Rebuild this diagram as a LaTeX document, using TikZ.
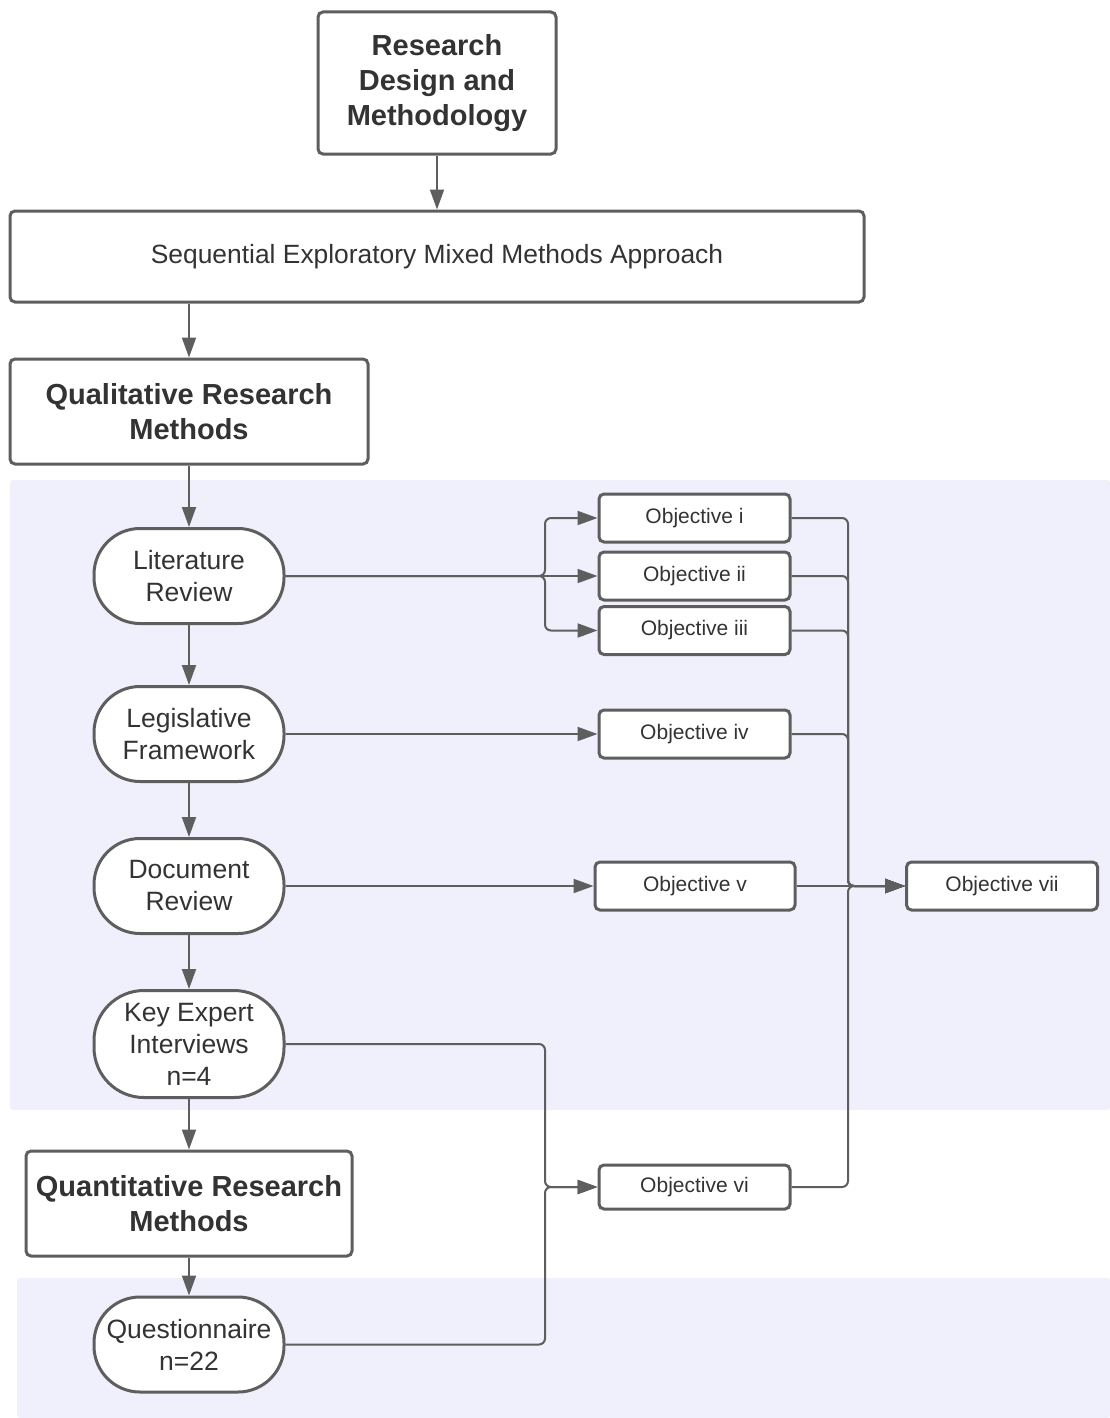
\documentclass[tikz,border=0pt]{standalone}
\usepackage{fontspec}
\setmainfont{Liberation Sans}
\usetikzlibrary{arrows.meta}
\definecolor{linegray}{RGB}{94,94,94}
\definecolor{txtgray}{RGB}{51,51,51}
\definecolor{lane}{RGB}{240,240,252}
\begin{document}
\begin{tikzpicture}[x=1pt,y=-1pt,
  box/.style={draw=linegray, line width=3pt, rounded corners=5pt, fill=white, text=txtgray, align=center, inner sep=0pt},
  headbox/.style={box, font=\fontsize{29}{35}\selectfont\bfseries},
  stadium/.style={box, rounded corners=46pt, minimum width=190pt, minimum height=95pt, font=\fontsize{26.5}{32}\selectfont},
  objbox/.style={box, minimum width=191pt, minimum height=48pt, font=\fontsize{21}{24}\selectfont},
  conn/.style={draw=linegray, line width=2pt, rounded corners=6pt},
  arr/.style={conn, -{Triangle[length=20pt,width=14pt]}}
]
\useasboundingbox (0,0) rectangle (1110,1418);
\fill[white] (0,0) rectangle (1110,1418);
% lanes
\fill[lane, rounded corners=3pt] (10,480) rectangle (1110,1110);
\fill[lane, rounded corners=3pt] (17,1278) rectangle (1110,1418);

% main column
\node[headbox, minimum width=238pt, minimum height=142pt] (rd) at (437,83) {Research\\Design and\\Methodology};
\node[box, minimum width=854pt, minimum height=91pt, font=\fontsize{26.4}{30}\selectfont] (seq) at (437,256.5) {Sequential Exploratory Mixed Methods Approach};
\node[headbox, minimum width=358pt, minimum height=105pt] (qual) at (189,411.5) {Qualitative Research\\Methods};
\node[stadium] (lit) at (189,576) {Literature\\Review};
\node[stadium] (leg) at (189,734) {Legislative\\Framework};
\node[stadium] (doc) at (189,886) {Document\\Review};
\node[stadium, minimum height=107pt, rounded corners=50pt] (key) at (189,1044) {Key Expert\\Interviews\\n=4};
\node[headbox, minimum width=326pt, minimum height=105pt] (quant) at (189,1203.5) {Quantitative Research\\Methods};
\node[stadium] (quest) at (189,1344.5) {Questionnaire\\n=22};

% objectives
\node[objbox] (o1) at (694.5,518) {Objective i};
\node[objbox] (o2) at (694.5,576) {Objective ii};
\node[objbox] (o3) at (694.5,630.5) {Objective iii};
\node[objbox] (o4) at (694.5,734) {Objective iv};
\node[objbox, minimum width=200pt] (o5) at (695,886) {Objective v};
\node[objbox] (o7) at (1002,886) {Objective vii};
\node[objbox, minimum height=44pt] (o6) at (694.5,1187) {Objective vi};

\coordinate (br1) at (545,576);
\coordinate (br2) at (545,1187);
\coordinate (bus) at (848,886);

% vertical flow
\draw[arr] (rd) -- (seq.north -| rd);
\draw[arr] (seq.south -| qual) -- (qual);
\draw[arr] (qual) -- (lit);
\draw[arr] (lit) -- (leg);
\draw[arr] (leg) -- (doc);
\draw[arr] (doc) -- (key);
\draw[arr] (key) -- (quant);
\draw[arr] (quant) -- (quest);

% to objectives
\draw[arr] (lit.east) -- (o2.west);
\draw[arr] (lit.east) -- (br1) |- (o1.west);
\draw[arr] (lit.east) -- (br1) |- (o3.west);
\draw[arr] (leg.east) -- (o4.west);
\draw[arr] (doc.east) -- (o5.west);
\draw[arr] (key.east) -| (br2) -- (o6.west);
\draw[arr] (quest.east) -| (br2) -- (o6.west);

% to objective vii
\draw[arr] (o5.east) -- (o7.west);
\draw[arr] (o1.east) -| (bus) -- (o7.west);
\draw[arr] (o2.east) -| (bus) -- (o7.west);
\draw[arr] (o3.east) -| (bus) -- (o7.west);
\draw[arr] (o4.east) -| (bus) -- (o7.west);
\draw[arr] (o6.east) -| (bus) -- (o7.west);
\end{tikzpicture}
\end{document}
